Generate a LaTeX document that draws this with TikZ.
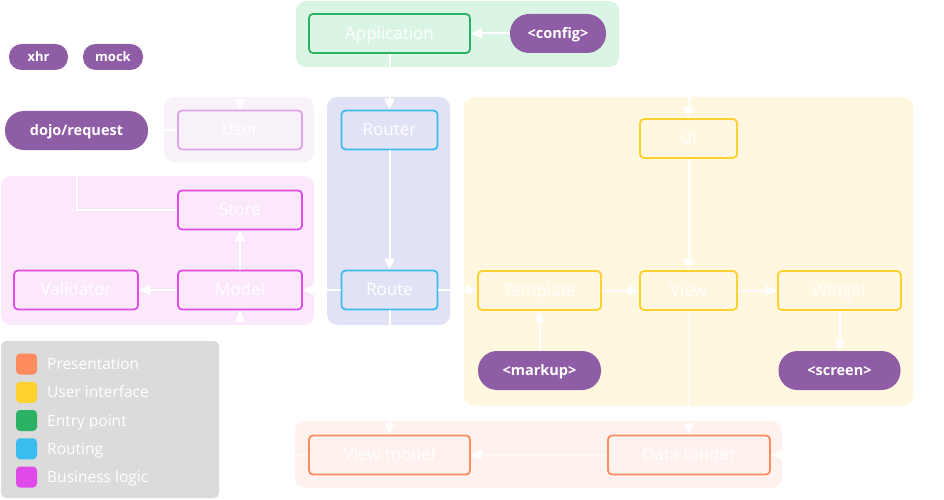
\documentclass[tikz,border=0pt]{standalone}
\usepackage{fontspec}
\setmainfont{Open Sans}
\usetikzlibrary{arrows.meta}
\definecolor{PILL}{HTML}{8E5DA5}
\definecolor{GRNF}{HTML}{DAF5E4}
\definecolor{GRN}{HTML}{2BB163}
\definecolor{USRF}{HTML}{F9F2FB}
\definecolor{USR}{HTML}{DCA5EA}
\definecolor{BIZF}{HTML}{FBE9FB}
\definecolor{BIZ}{HTML}{E04BE8}
\definecolor{RTEF}{HTML}{E2E2F6}
\definecolor{RTE}{HTML}{3BBCF0}
\definecolor{UIF}{HTML}{FFF7E0}
\definecolor{UIC}{HTML}{FFD12E}
\definecolor{PREF}{HTML}{FFF1EE}
\definecolor{PRE}{HTML}{FF8C5F}
\definecolor{LEG}{HTML}{DBDBDB}

\begin{document}
\begin{tikzpicture}[x=1pt,y=-1pt]
\tikzset{panel/.style={rounded corners=10pt},
 box/.style={draw,line width=1.8pt,rounded corners=4pt,minimum height=39pt,inner sep=0pt,text=white,text height=12pt,text depth=0.5pt,font=\fontsize{17}{20}\selectfont},
 pill/.style={fill=PILL,rounded corners=19pt,minimum height=39pt,inner sep=0pt,text=white,text height=10pt,text depth=0.4pt,font=\bfseries\fontsize{14.5}{17}\selectfont},
 tag/.style={fill=PILL,rounded corners=12.5pt,minimum height=26pt,inner sep=0pt,text=white,text height=9pt,text depth=0.4pt,font=\bfseries\fontsize{13}{15}\selectfont},
 ln/.style={white,line width=2pt},
 arr/.style={ln,-{Triangle[length=11pt,width=10pt]}},
 dotarr/.style={arr,dotted,line width=1.6pt},
 legtxt/.style={anchor=west,text=white,inner sep=0pt,text height=11pt,text depth=0pt,font=\fontsize{15.5}{18}\selectfont}}
\useasboundingbox (0,0) rectangle (944,500);
% panels
\fill[GRNF,panel] (296,1) rectangle (619,67);
\fill[USRF,panel] (164,97) rectangle (314,162);
\fill[BIZF,panel] (1,176) rectangle (314,325);
\fill[RTEF,panel] (327,97) rectangle (450,325);
\fill[UIF,panel] (464,97) rectangle (913,406);
\fill[PREF,panel] (295,421) rectangle (782,488);
\fill[LEG,rounded corners=5pt] (1,341) rectangle (219,498);
% entry point
\node[box,draw=GRN,minimum width=161pt] (app) at (389.5,33.5) {Application};
\node[pill,minimum width=96pt] (config) at (558,33.5) {<config>};
% request
\node[tag,minimum width=59pt] (xhr) at (38.5,57) {xhr};
\node[tag,minimum width=60pt] (mock) at (113,57) {mock};
\node[pill,minimum width=143pt] (dojo) at (76.5,130.5) {dojo/request};
% business logic
\node[box,draw=USR,minimum width=124pt] (user) at (240,130) {User};
\node[box,draw=BIZ,minimum width=124pt] (store) at (240,210) {Store};
\node[box,draw=BIZ,minimum width=124pt] (model) at (240,290) {Model};
\node[box,draw=BIZ,minimum width=124pt] (validator) at (76,290) {Validator};
% routing
\node[box,draw=RTE,minimum width=96pt] (router) at (389.5,130) {Router};
\node[box,draw=RTE,minimum width=96pt] (route) at (389.5,290) {Route};
% user interface
\node[box,draw=UIC,minimum width=97pt] (ui) at (688.5,138.5) {UI};
\node[box,draw=UIC,minimum width=123pt] (template) at (539.5,290.5) {Template};
\node[box,draw=UIC,minimum width=97pt] (view) at (688.5,290.5) {View};
\node[box,draw=UIC,minimum width=123pt] (widget) at (839.5,290.5) {Widget};
\node[pill,minimum width=123pt] (markup) at (539.5,370.5) {<markup>};
\node[pill,minimum width=122pt] (screen) at (839.5,370.5) {<screen>};
% presentation
\node[box,draw=PRE,minimum width=161pt] (viewmodel) at (389.5,455) {View model};
\node[box,draw=PRE,minimum width=162pt] (binder) at (689,455) {Data binder};
% connectors
\coordinate (split) at (389.5,80);
\coordinate (feed) at (800,455);
\draw[arr] (config) -- (app);
\draw[arr] (app) -- (router);
\draw[ln] (app.south) -- (split);
\draw[arr] (split) -| (user.north);
\draw[arr] (split) -| (ui.north);
\draw[ln] (dojo) -- (user);
\draw[ln] (store.west) -| (dojo.south);
\draw[arr] (model) -- (store);
\draw[arr] (model) -- (validator);
\draw[arr] (router) -- (route);
\draw[arr] (route) -- (model);
\draw[arr] (route.east) -- (template.west |- route.east);
\draw[arr] (route) -- (viewmodel);
\draw[arr] (ui) -- (view);
\draw[arr] (template) -- (view);
\draw[arr] (view) -- (widget);
\draw[arr] (markup) -- (template);
\draw[arr] (widget) -- (screen);
\draw[dotarr] (view) -- (binder);
\draw[dotarr] (binder) -- (viewmodel);
\draw[dotarr] (viewmodel.west) -| (model.south);
\draw[arr] (feed) -- (binder);
% legend
\foreach \c/\t [count=\i] in {PRE/Presentation,UIC/User interface,GRN/Entry point,RTE/Routing,BIZ/Business logic}{
 \fill[\c,rounded corners=4pt] (16,{364+28.25*(\i-1)-10.5}) rectangle +(21,21);
 \node[legtxt] (leg\i) at (47,{364+28.25*(\i-1)}) {\t};
}
\end{tikzpicture}
\end{document}
